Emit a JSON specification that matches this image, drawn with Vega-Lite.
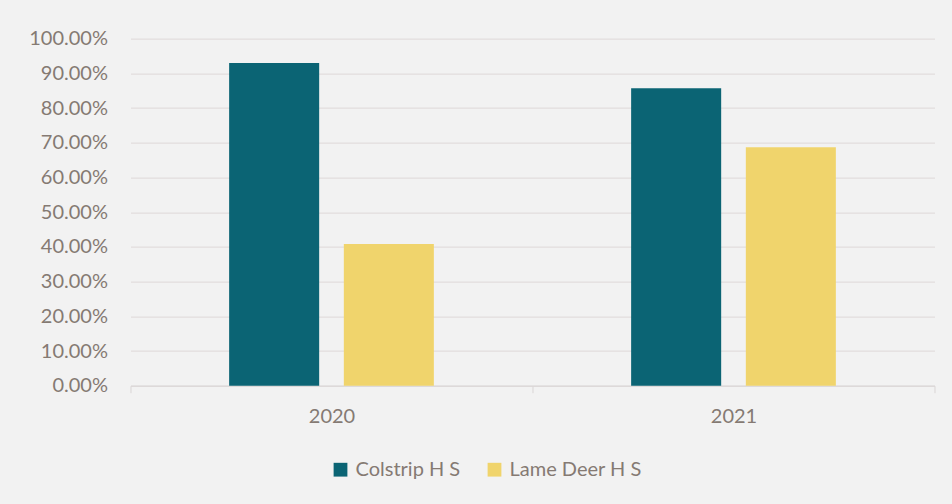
{
  "$schema": "https://vega.github.io/schema/vega-lite/v6.json",
  "width": 804,
  "height": 347,
  "autosize": {"type": "none"},
  "padding": {"left": 130.5, "top": 38.7, "right": 17.5, "bottom": 118.3},
  "background": "#F2F2F2",
  "data": {
    "values": [
      {"year": "2020", "school": "Colstrip H S", "rate": 0.93},
      {"year": "2020", "school": "Lame Deer H S", "rate": 0.408},
      {"year": "2021", "school": "Colstrip H S", "rate": 0.857},
      {"year": "2021", "school": "Lame Deer H S", "rate": 0.687}
    ]
  },
  "mark": {"type": "bar"},
  "encoding": {
    "x": {
      "field": "year",
      "type": "nominal",
      "scale": {"paddingInner": 0, "paddingOuter": 0},
      "axis": {
        "title": null,
        "labelAngle": 0,
        "tickBand": "extent",
        "domainColor": "#D9D5D5",
        "tickColor": "#D9D5D5",
        "tickSize": 7,
        "labelPadding": 14,
        "labelFont": "Lato",
        "labelFontSize": 20,
        "labelColor": "#857A73"
      }
    },
    "xOffset": {
      "field": "school",
      "type": "nominal",
      "scale": {"paddingInner": 0.215, "paddingOuter": 0.86}
    },
    "y": {
      "field": "rate",
      "type": "quantitative",
      "scale": {"domain": [0, 1]},
      "axis": {
        "title": null,
        "values": [0, 0.1, 0.2, 0.3, 0.4, 0.5, 0.6, 0.7, 0.8, 0.9, 1],
        "format": ".2%",
        "domain": false,
        "ticks": false,
        "labelPadding": 23,
        "labelFont": "Lato",
        "labelFontSize": 20,
        "labelColor": "#857A73",
        "gridColor": "#E2DDDD",
        "gridWidth": 1.2
      }
    },
    "color": {
      "field": "school",
      "type": "nominal",
      "scale": {"domain": ["Colstrip H S", "Lame Deer H S"], "range": ["#0B6474", "#F0D46C"]},
      "legend": {
        "title": null,
        "orient": "none",
        "direction": "horizontal",
        "legendX": 200,
        "legendY": 421,
        "symbolType": "square",
        "symbolSize": 190,
        "symbolStrokeWidth": 0,
        "labelOffset": 5,
        "columnPadding": 24,
        "labelFont": "Lato",
        "labelFontSize": 20,
        "labelColor": "#857A73"
      }
    }
  },
  "config": {"view": {"stroke": null}}
}
